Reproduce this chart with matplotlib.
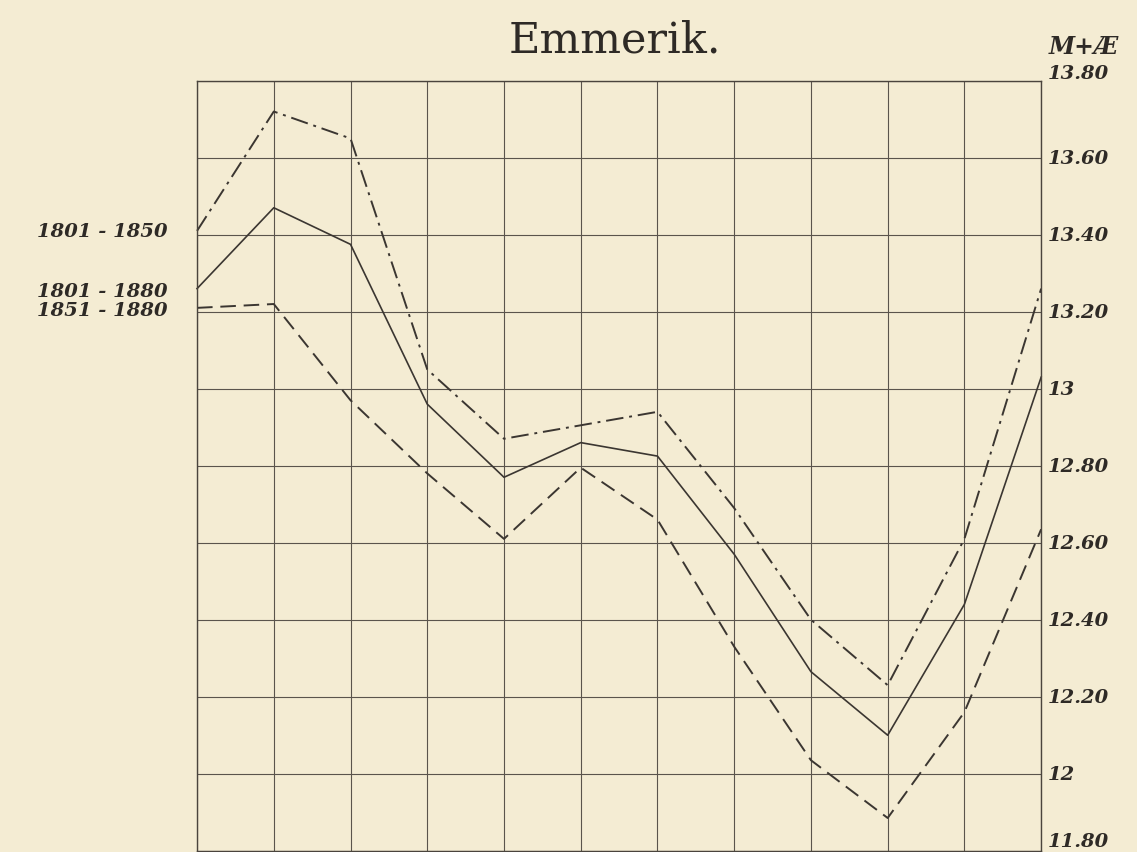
import matplotlib

matplotlib.use("Agg")

import matplotlib.pyplot as plt

# Monthly water levels, three periods
positions = list(range(12))
period_labels = ["1801 - 1850", "1801 - 1880", "1851 - 1880"]
levels_1801_1850 = [13.41, 13.72, 13.65, 13.05, 12.87, 12.905, 12.94, 12.69, 12.40, 12.23, 12.61, 13.26]
levels_1801_1880 = [13.26, 13.47, 13.375, 12.96, 12.77, 12.86, 12.825, 12.57, 12.265, 12.10, 12.44, 13.03]
levels_1851_1880 = [13.21, 13.22, 12.97, 12.78, 12.61, 12.795, 12.66, 12.33, 12.035, 11.885, 12.16, 12.635]
y_ticks = [11.8, 12.0, 12.2, 12.4, 12.6, 12.8, 13.0, 13.2, 13.4, 13.6, 13.8]
y_tick_labels = ["11.80", "12", "12.20", "12.40", "12.60", "12.80", "13", "13.20", "13.40", "13.60", "13.80"]

paper = "#f4ecd3"
ink = "#3b3631"

fig = plt.figure(figsize=(11.37, 8.53), dpi=100, facecolor=paper)
ax = fig.add_axes([0.1733, 0.0015, 0.7424, 0.9027])
ax.set_facecolor(paper)

ax.set_xlim(0, 11)
ax.set_ylim(11.8, 13.8)
ax.set_xticks(positions)
ax.set_yticks(y_ticks)
ax.grid(True, color="#5a544c", linewidth=0.8)
ax.tick_params(length=0, labelbottom=False, labelleft=False)
for spine in ax.spines.values():
    spine.set_color("#4a443d")
    spine.set_linewidth(1.0)

ax.plot(positions, levels_1801_1850, color=ink, linewidth=1.4,
        dashes=[9, 3, 1.5, 3], clip_on=False)
ax.plot(positions, levels_1801_1880, color=ink, linewidth=1.2, clip_on=False)
ax.plot(positions, levels_1851_1880, color=ink, linewidth=1.4,
        dashes=[8, 4], clip_on=False)

label_font = dict(family="DejaVu Serif", style="italic", weight="semibold",
                  fontsize=14, color="#2e2a26")
# the top and bottom labels sit slightly inside the frame
nudge = {13.8: 0.02, 11.8: 0.025}
for value, text in zip(y_ticks, y_tick_labels):
    ax.text(11.08, value + nudge.get(value, 0.0), text, ha="left", va="center",
            clip_on=False, **label_font)

# period names beside the first point of each curve
label_y = [13.41, 13.255, 13.205]
for y, text in zip(label_y, period_labels):
    ax.text(-0.38, y, text, ha="right", va="center", **label_font)

ax.text(11.1, 13.89, "M+Æ", ha="left", va="center", family="DejaVu Serif",
        style="italic", weight="bold", fontsize=17, color="#2e2a26", clip_on=False)

fig.text(0.541, 0.9387, "Emmerik.", ha="center", va="baseline", family="DejaVu Serif",
         fontsize=31, color="#2e2a26")

fig.savefig("out.png", dpi=100, facecolor=paper)
plt.close(fig)
